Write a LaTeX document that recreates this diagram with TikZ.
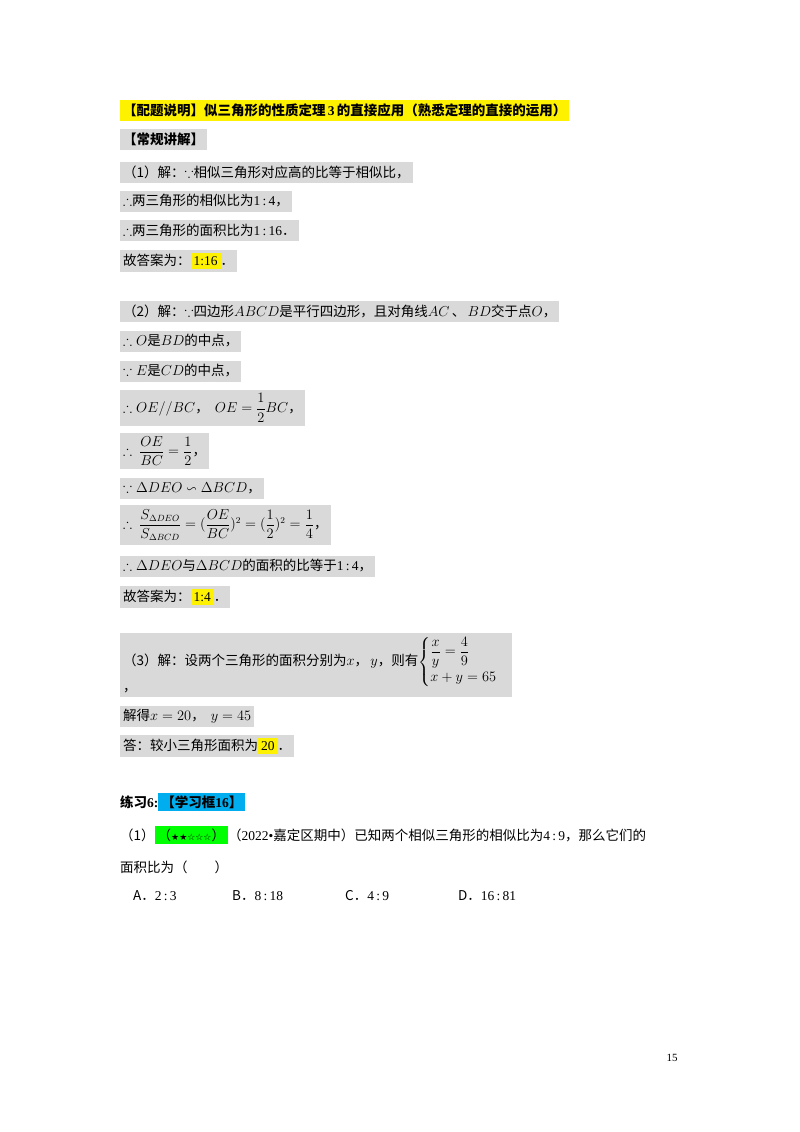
\documentclass[tikz,border=0pt]{standalone}
\usepackage{amsmath,amssymb}
\usepackage{fontspec}
\setmainfont{Liberation Serif}
\newfontfamily\cjk{Noto Sans CJK SC}
\newfontfamily\sym{DejaVu Sans}
\begin{document}
\begin{tikzpicture}[x=1pt,y=-1pt,
  ln/.style={anchor=west,fill=gray!30,inner xsep=3pt,inner ysep=3pt,font=\fontsize{13.5}{16}\selectfont,minimum height=21pt},
  hl/.style={fill=yellow,inner sep=1pt}]
\useasboundingbox (0,0) rectangle (800,1132);
\fill[white] (0,0) rectangle (800,1132);
\node[ln,fill=yellow] (t) at (120,110) {\cjk\bfseries 【配题说明】似三角形的性质定理\,{\rmfamily 3}\,的直接应用（熟悉定理的直接的运用）};
\node[ln] (a0) at (120,139) {\cjk\bfseries 【常规讲解】};
\node[ln] (a1) at (120,172) {\cjk （1）解：$\because$相似三角形对应高的比等于相似比，};
\node[ln] (a2) at (120,201) {\cjk $\therefore$两三角形的相似比为{\rmfamily 1\,:\,4}，};
\node[ln] (a3) at (120,230) {\cjk $\therefore$两三角形的面积比为{\rmfamily 1\,:\,16}．};
\node[ln] (a4) at (120,261) {\cjk 故答案为：\colorbox{yellow}{\rmfamily 1:16}．};
\node[ln] (b1) at (120,311) {\cjk （2）解：$\because$四边形$ABCD$是平行四边形，且对角线$AC$\,、\,$BD$交于点$O$，};
\node[ln] (b2) at (120,341) {\cjk $\therefore O$是$BD$的中点，};
\node[ln] (b3) at (120,371) {\cjk $\because E$是$CD$的中点，};
\node[ln,minimum height=36pt] (b4) at (120,408) {\cjk $\therefore OE//BC$，\ \ $OE=\dfrac12 BC$，};
\node[ln,minimum height=36pt] (b5) at (120,451) {\cjk $\therefore\ \dfrac{OE}{BC}=\dfrac12$，};
\node[ln] (b6) at (120,488) {\cjk $\because \Delta DEO\backsim\Delta BCD$，};
\node[ln,minimum height=40pt] (b7) at (120,525) {\cjk $\therefore\ \dfrac{S_{\Delta DEO}}{S_{\Delta BCD}}=(\dfrac{OE}{BC})^2=(\dfrac12)^2=\dfrac14$，};
\node[ln] (b8) at (120,566) {\cjk $\therefore\Delta DEO$与$\Delta BCD$的面积的比等于{\rmfamily 1\,:\,4}，};
\node[ln] (b9) at (120,597) {\cjk 故答案为：\colorbox{yellow}{\rmfamily 1:4}．};
\node[ln,minimum height=64pt,text width=386pt] (c1) at (120,665) {\cjk （3）解：设两个三角形的面积分别为$x$，\,$y$，则有$\begin{cases}\dfrac{x}{y}=\dfrac49\\[6pt] x+y=65\end{cases}$\quad，};
\node[ln] (c2) at (120,716) {\cjk 解得$x=20$，\ \ $y=45$};
\node[ln] (c3) at (120,746) {\cjk 答：较小三角形面积为\colorbox{yellow}{\rmfamily 20}．};
\node[anchor=west,font=\fontsize{13.5}{16}\selectfont,inner sep=0pt] (d0) at (120,802) {\cjk\bfseries 练习{\rmfamily 6:}\colorbox{cyan}{【学习框{\rmfamily 16}】}};
\node[anchor=west,font=\fontsize{13.5}{16}\selectfont,inner sep=0pt] (d1) at (120,835) {\cjk （1）\colorbox{green}{（{\sym\small ★★☆☆☆}）}（{\rmfamily 2022•}嘉定区期中）已知两个相似三角形的相似比为{\rmfamily 4\,:\,9}，那么它们的};
\node[anchor=west,font=\fontsize{13.5}{16}\selectfont,inner sep=0pt] (d2) at (120,867) {\cjk 面积比为（\qquad）};
\node[anchor=west,font=\fontsize{13.5}{16}\selectfont,inner sep=0pt] (o1) at (133,896) {\cjk A．{\rmfamily 2\,:\,3}};
\node[anchor=west,font=\fontsize{13.5}{16}\selectfont,inner sep=0pt] (o2) at (232,896) {\cjk B．{\rmfamily 8\,:\,18}};
\node[anchor=west,font=\fontsize{13.5}{16}\selectfont,inner sep=0pt] (o3) at (345,896) {\cjk C．{\rmfamily 4\,:\,9}};
\node[anchor=west,font=\fontsize{13.5}{16}\selectfont,inner sep=0pt] (o4) at (458,896) {\cjk D．{\rmfamily 16\,:\,81}};
\node[font=\fontsize{11}{13}\selectfont] (pg) at (672,1058) {15};
\end{tikzpicture}
\end{document}
